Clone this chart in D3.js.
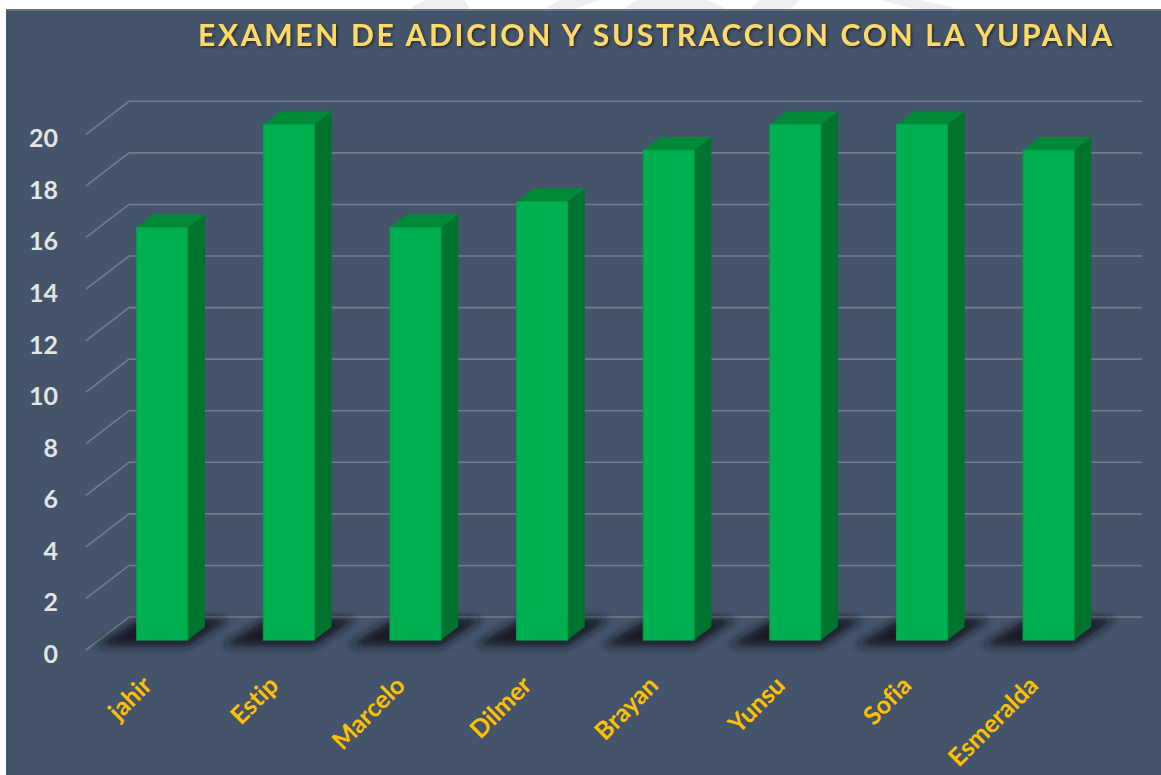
<!DOCTYPE html>
<html><head><meta charset="utf-8">
<script src="https://cdn.jsdelivr.net/npm/d3@7"></script>
<style>html,body{margin:0;padding:0;background:#fff;}svg{display:block;}text{font-variant-ligatures:none;}</style>
</head><body>
<svg id="c" width="1161" height="775"></svg>
<script>
const categories = ["jahir","Estip","Marcelo","Dilmer","Brayan","Yunsu","Sofia","Esmeralda"];
const scores = [16,20,16,17,19,20,20,19];
const yTicks = [0,2,4,6,8,10,12,14,16,18,20];
const title = "EXAMEN DE ADICION Y SUSTRACCION CON LA YUPANA";

const svg = d3.select("#c");
const W = 1161, H = 775;
const DX = 43, DY = -33;          // full depth offset
const B0 = 0.3, B1 = 0.7;         // bar depth span

// background
svg.append("rect").attr("x",0).attr("y",0).attr("width",W).attr("height",H).attr("fill","#fff");
// faint watermark shapes in the top strip
const wm = svg.append("g").attr("fill","#efefef");
wm.append("path").attr("d","M560,0 L600,0 L575,9 L545,9 Z");
wm.append("path").attr("d","M625,9 C640,-10 700,-10 725,9 Z");
wm.append("path").attr("d","M760,0 L800,0 L790,9 L750,9 Z");
wm.append("path").attr("d","M880,0 L920,0 L960,9 L915,9 Z");
wm.append("path").attr("d","M410,9 C420,0 440,-6 460,-6 L470,9 Z");
svg.append("rect").attr("x",6).attr("y",9).attr("width",W-6).attr("height",H-9).attr("fill","#44546A");
svg.append("rect").attr("x",6).attr("y",9).attr("width",W-6).attr("height",2).attr("fill","#687387");

const defs = svg.append("defs");
const f = defs.append("filter").attr("id","blur").attr("x","-50%").attr("y","-50%").attr("width","200%").attr("height","200%");
f.append("feGaussianBlur").attr("stdDeviation",4.5);
const ts = defs.append("filter").attr("id","tshadow").attr("x","-10%").attr("y","-30%").attr("width","120%").attr("height","160%");
ts.append("feDropShadow").attr("dx",1.5).attr("dy",1.5).attr("stdDeviation",1.2).attr("flood-color","#1a2030").attr("flood-opacity",0.8);

const x = d3.scaleBand().domain(categories).range([86,1099]).paddingInner(0.597).paddingOuter(0.2985);
const y = d3.scaleLinear().domain([0,20]).range([650,134.3]);

// gridlines (side wall + back wall)
const grid = svg.append("g");
yTicks.forEach(t => {
  const yy = y(t);
  grid.append("polyline")
    .attr("points", `86,${yy} ${86+DX},${yy+DY} ${1099+DX},${yy+DY}`)
    .attr("fill","none").attr("stroke","#747b88").attr("stroke-width",1.6);
});

// y labels
svg.append("g").selectAll("text").data(yTicks).join("text")
  .attr("x",58).attr("y",d=>y(d)+3)
  .attr("text-anchor","end").attr("dominant-baseline","central")
  .attr("font-family","Lato, 'Open Sans', sans-serif").attr("font-weight","bold")
  .attr("font-size",25).attr("fill","#e4e4e4")
  .text(d=>d);

const fp = (px, depth) => [px + DX*depth, y(0) + DY*depth]; // floor point

// shadows
const sh = svg.append("g").attr("filter","url(#blur)");
categories.forEach((c,i) => {
  const xl = x(c), xr = x(c)+x.bandwidth();
  const pts = [fp(xl-34,0.12), fp(xr+8,0.12), fp(xr+14,0.95), fp(xl-24,0.95)];
  sh.append("polygon").attr("points", pts.map(p=>p.join(",")).join(" "))
    .attr("fill","#131822").attr("opacity",0.95);
});

// bars
const bars = svg.append("g");
categories.forEach((c,i) => {
  const v = scores[i];
  const bw = x.bandwidth();
  const xl = x(c) + DX*B0, xr = xl + bw;
  const yt = y(v) + DY*B0, yb = y(0) + DY*B0;
  const ddx = DX*(B1-B0), ddy = DY*(B1-B0);
  bars.append("polygon").attr("points",
    `${xr},${yt} ${xr+ddx},${yt+ddy} ${xr+ddx},${yb+ddy} ${xr},${yb}`).attr("fill","#00732F");
  bars.append("polygon").attr("points",
    `${xl},${yt} ${xl+ddx},${yt+ddy} ${xr+ddx},${yt+ddy} ${xr},${yt}`).attr("fill","#008A38");
  bars.append("rect").attr("x",xl).attr("y",yt).attr("width",bw).attr("height",yb-yt)
    .attr("fill","#00B050").attr("stroke","#00A049").attr("stroke-width",1);
});

// x labels
svg.append("g").selectAll("text").data(categories).join("text")
  .attr("transform", d => `translate(${x(d)+x.bandwidth()/2+4},${687}) rotate(-45)`)
  .attr("text-anchor","end")
  .attr("font-family","Lato, 'Open Sans', sans-serif").attr("font-weight","bold")
  .attr("font-size",25).attr("fill","#FFC000")
  .text(d=>d);

// title
svg.append("text").attr("x",198).attr("y",46)
  .attr("textLength",914).attr("lengthAdjust","spacing")
  .attr("font-family","Lato, 'Open Sans', sans-serif").attr("font-weight","bold")
  .attr("font-size",30).attr("fill","#FFD966").attr("filter","url(#tshadow)")
  .text(title);
</script>
</body></html>
